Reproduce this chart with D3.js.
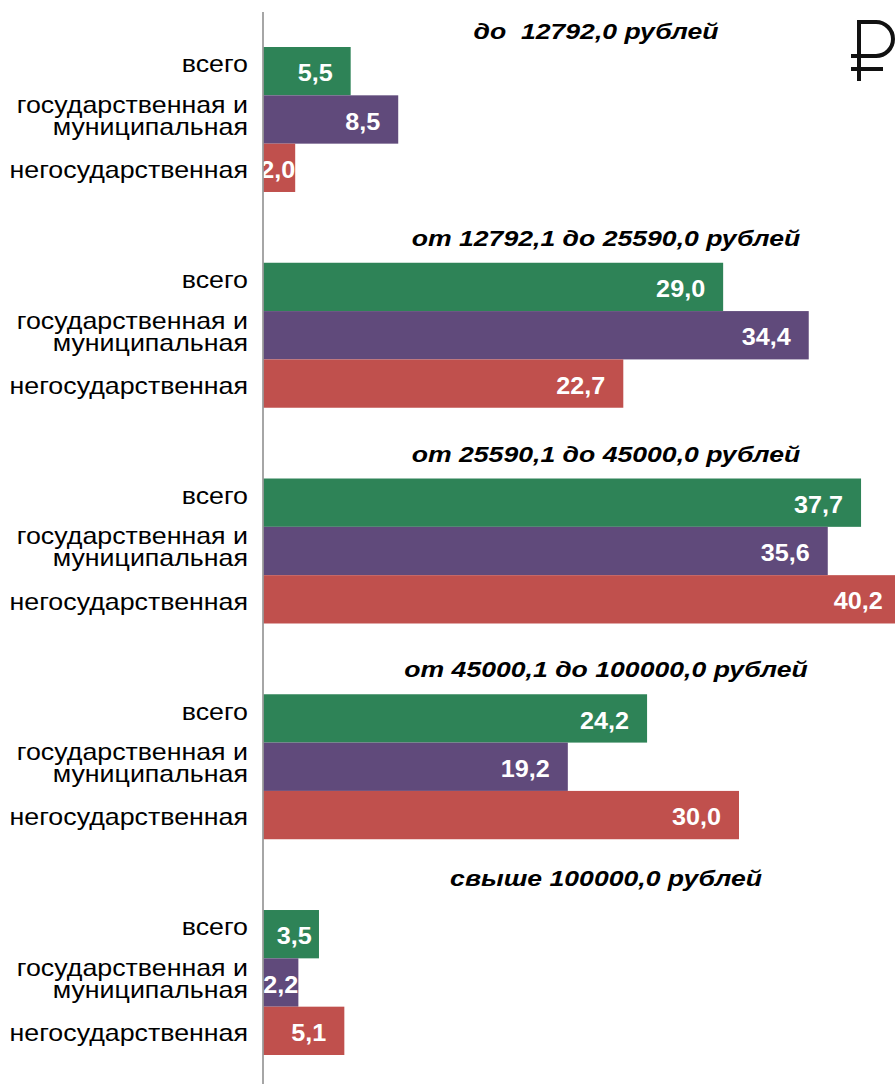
<!DOCTYPE html>
<html>
<head>
<meta charset="utf-8">
<script src="https://cdn.jsdelivr.net/npm/d3@7"></script>
<style>
  html, body { margin: 0; padding: 0; background: #fff; }
  text { font-family: "Liberation Sans", Arial, sans-serif; }
</style>
</head>
<body>
<div id="container"></div>
<script>
// income bands (group titles)
const groups = [
    "до  12792,0 рублей",
    "от 12792,1 до 25590,0 рублей",
    "от 25590,1 до 45000,0 рублей",
    "от 45000,1 до 100000,0 рублей",
    "свыше 100000,0 рублей"
]

// ownership types (row labels)
const series = [
    ["всего"],
    ["государственная и", "муниципальная"],
    ["негосударственная"]
]

const seriesColors = ["#2e8357", "#604a7b", "#c0504d"]

// % of workers, one array per ownership type, one value per income band
const total = [5.5, 29.0, 37.7, 24.2, 3.5]
const stateMunicipal = [8.5, 34.4, 35.6, 19.2, 2.2]
const nonState = [2.0, 22.7, 40.2, 30.0, 5.1]

const values = [total, stateMunicipal, nonState]

const width = 895
const height = 1084
const x0 = 263.5

// layout tweaks
const titleGap = [8, 17, 17, 17, 24]      // title baseline above first bar
const titleShift = [-10, 0, 0, 0, 0]      // horizontal nudge of titles
const labelShift = [-7, -4, 2]            // row label vertical nudge
const labelStretch = 1.165                // the chart text is drawn wide
const titleStretch = 1.21
const valueStretch = 1.05

const svg = d3.select("div#container")
    .append("svg")
    .attr("width", width)
    .attr("height", height)

const x = d3.scaleLinear()
    .domain([0, 40])
    .range([x0, x0 + 634])

const yGroup = d3.scaleBand()
    .domain(d3.range(groups.length))
    .range([47, 1055])
    .paddingInner(0.328)
    .paddingOuter(0)

const yRow = d3.scaleBand()
    .domain(d3.range(series.length))
    .range([0, yGroup.bandwidth()])
    .padding(0)

const rows = []
groups.forEach((g, gi) => {
    series.forEach((s, si) => {
        rows.push({ group: gi, serie: si, label: s, value: values[si][gi] })
    })
})

const rowY = d => yGroup(d.group) + yRow(d.serie)
const rowMid = d => rowY(d) + yRow.bandwidth() / 2
const fmt = v => d3.format(".1f")(v).replace(".", ",")

// bars
svg.append("g")
    .selectAll("rect")
    .data(rows)
    .enter()
    .append("rect")
    .attr("x", x(0))
    .attr("y", d => rowY(d))
    .attr("width", d => x(d.value) - x(0))
    .attr("height", yRow.bandwidth())
    .attr("fill", d => seriesColors[d.serie])

// category labels
const label = svg.append("g")
    .selectAll("text")
    .data(rows)
    .enter()
    .append("text")
    .attr("text-anchor", "end")
    .attr("font-size", 23)
    .attr("fill", "#000")
    .attr("transform", d => `translate(248, ${rowMid(d) + labelShift[d.serie]}) scale(${labelStretch}, 1)`)

label.selectAll("tspan")
    .data(d => d.label.map((t, i) => ({ t, i, n: d.label.length })))
    .enter()
    .append("tspan")
    .attr("x", 0)
    .attr("y", l => (l.i - (l.n - 1) / 2) * 22)
    .attr("dy", "0.36em")
    .text(l => l.t)

// value labels
svg.append("g")
    .selectAll("text")
    .data(rows)
    .enter()
    .append("text")
    .attr("text-anchor", "end")
    .attr("font-size", 24)
    .attr("font-weight", "bold")
    .attr("fill", "#fff")
    .attr("dy", "0.42em")
    .text(d => fmt(d.value))
    .attr("transform", function (d) {
        const w = this.getComputedTextLength() * valueStretch
        const barW = x(d.value) - x(0)
        const end = barW - w >= 36 ? x(d.value) - 18 : x(0) + (barW + w) / 2 + 3
        return `translate(${Math.min(end, x(d.value))}, ${rowMid(d)}) scale(${valueStretch}, 1)`
    })

// group titles
svg.append("g")
    .selectAll("text")
    .data(groups)
    .enter()
    .append("text")
    .attr("text-anchor", "middle")
    .attr("font-size", 22)
    .attr("font-weight", "bold")
    .attr("font-style", "italic")
    .style("white-space", "pre")
    .attr("transform", (d, i) => `translate(${606 + titleShift[i]}, ${yGroup(i) - titleGap[i]}) scale(${titleStretch}, 1)`)
    .text(d => d)

// vertical axis line
svg.append("line")
    .attr("x1", x(0) - 0.5)
    .attr("x2", x(0) - 0.5)
    .attr("y1", 12)
    .attr("y2", height)
    .attr("stroke", "#888")
    .attr("stroke-width", 1.5)

// ruble sign
svg.append("path")
    .attr("d", "M859,81 V22 H876 A17,17 0 0 1 876,56 H851 M851,69 H883")
    .attr("fill", "none")
    .attr("stroke", "#111")
    .attr("stroke-width", 4)
</script>
</body>
</html>
